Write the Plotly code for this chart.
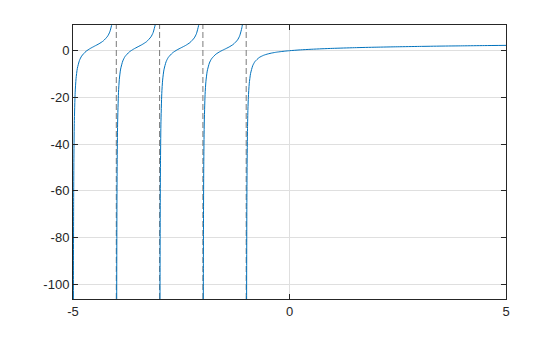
import plotly.graph_objects as go

# Branch between poles -5 and -4
x_b1 = [-4.995, -4.99, -4.985, -4.98, -4.97, -4.95, -4.93, -4.9, -4.85, -4.8,
        -4.7, -4.6, -4.5, -4.4, -4.3, -4.2, -4.15, -4.1, -4.08, -4.05]
y_b1 = [-197.89, -97.88, -64.54, -47.86, -31.16, -17.77, -11.99, -7.60, -4.12, -2.29,
        -0.27, 0.97, 1.97, 2.96, 4.19, 6.22, 8.05, 11.53, 14.09, 21.69]

# Branch between poles -4 and -3
x_b2 = [-3.995, -3.99, -3.985, -3.98, -3.97, -3.95, -3.93, -3.9, -3.85, -3.8,
        -3.7, -3.6, -3.5, -3.4, -3.3, -3.2, -3.15, -3.1, -3.08, -3.05]
y_b2 = [-198.14, -98.13, -64.79, -48.11, -31.41, -18.02, -12.24, -7.86, -4.38, -2.55,
        -0.54, 0.69, 1.68, 2.67, 3.89, 5.91, 7.73, 11.21, 13.77, 21.36]

# Branch between poles -3 and -2
x_b3 = [-2.995, -2.99, -2.985, -2.98, -2.97, -2.95, -2.93, -2.9, -2.85, -2.8,
        -2.7, -2.6, -2.5, -2.4, -2.3, -2.2, -2.15, -2.1, -2.08, -2.05]
y_b3 = [-198.48, -98.47, -65.12, -48.45, -31.75, -18.36, -12.58, -8.21, -4.73, -2.91,
        -0.91, 0.31, 1.28, 2.25, 3.46, 5.45, 7.26, 10.73, 13.29, 20.87]

# Branch between poles -2 and -1
x_b4 = [-1.995, -1.99, -1.985, -1.98, -1.97, -1.95, -1.93, -1.9, -1.85, -1.8,
        -1.7, -1.6, -1.5, -1.4, -1.3, -1.2, -1.15, -1.1, -1.08, -1.05]
y_b4 = [-198.98, -98.97, -65.63, -48.95, -32.25, -18.87, -13.10, -8.74, -5.27, -3.46,
        -1.50, -0.32, 0.61, 1.54, 2.69, 4.61, 6.39, 9.82, 12.36, 19.91]

# Branch right of pole -1
x_b5 = [-0.995, -0.99, -0.985, -0.98, -0.97, -0.96, -0.95, -0.93, -0.9, -0.85,
        -0.8, -0.7, -0.6, -0.5, -0.4, -0.3, -0.2, -0.1, 0.0, 0.25,
        0.5, 0.75, 1.0, 1.5, 2.0, 2.5, 3.0, 3.5, 4.0, 4.5, 5.0]
y_b5 = [-199.99, -99.98, -66.64, -49.97, -33.29, -24.94, -19.92, -14.18, -9.85, -6.44,
        -4.71, -2.93, -1.98, -1.39, -0.96, -0.64, -0.39, -0.18, 0.0, 0.35,
        0.61, 0.82, 1.0, 1.28, 1.5, 1.68, 1.83, 1.97, 2.08, 2.19, 2.28]

poles = [-4, -3, -2, -1]
x_ticks = [-5, 0, 5]
y_ticks = [-100, -80, -60, -40, -20, 0]
x_range = [-5, 5]
y_range = [-106.3, 11.0]

BLUE = "#0072BD"
AX = "#262626"
GRID = "#DFDFDF"

fig = go.Figure()

for p in poles:
    fig.add_trace(go.Scatter(
        x=[p, p], y=y_range, mode="lines",
        line=dict(color="#7A7A7A", width=1, dash="6px,3px"),
        hoverinfo="skip", showlegend=False))

for xs, ys in [(x_b1, y_b1), (x_b2, y_b2), (x_b3, y_b3), (x_b4, y_b4), (x_b5, y_b5)]:
    fig.add_trace(go.Scatter(
        x=xs, y=ys, mode="lines", line=dict(color=BLUE, width=1, shape="spline", smoothing=0.6),
        showlegend=False))

fig.update_layout(
    width=560, height=337,
    margin=dict(l=73, r=54, t=25, b=38),
    paper_bgcolor="white", plot_bgcolor="white",
    font=dict(family="Liberation Sans, Arial, sans-serif", size=13, color=AX),
    showlegend=False,
)
fig.update_xaxes(
    range=x_range, tickvals=x_ticks, ticktext=[str(v) for v in x_ticks],
    showgrid=True, gridcolor=GRID, gridwidth=1, zeroline=False,
    showline=True, linecolor=AX, linewidth=1, mirror="ticks",
    ticks="inside", ticklen=5, tickcolor=AX, tickwidth=1,
)
fig.update_yaxes(
    range=y_range, tickvals=y_ticks, ticktext=[str(v) for v in y_ticks],
    showgrid=True, gridcolor=GRID, gridwidth=1, zeroline=False,
    showline=True, linecolor=AX, linewidth=1, mirror="ticks",
    ticks="inside", ticklen=5, tickcolor=AX, tickwidth=1,
)

fig.write_html("out.html")
